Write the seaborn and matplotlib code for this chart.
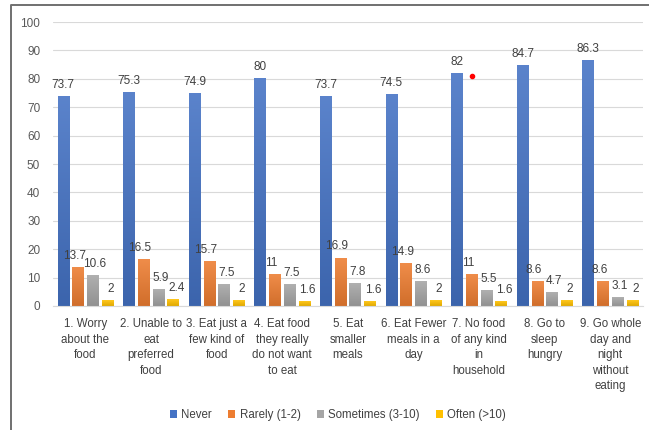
import numpy as np
import pandas as pd
import matplotlib
matplotlib.use("Agg")
import matplotlib.pyplot as plt
from matplotlib.lines import Line2D
from matplotlib.patches import Patch
from matplotlib.colors import LinearSegmentedColormap, to_rgb
import seaborn as sns

# Food insecurity items and share of respondents (%) per frequency
items = [
    "1. Worry\nabout the\nfood",
    "2. Unable to\neat\npreferred\nfood",
    "3. Eat just a\nfew kind of\nfood",
    "4. Eat food\nthey really\ndo not want\nto eat",
    "5. Eat\nsmaller\nmeals",
    "6. Eat Fewer\nmeals in a\nday",
    "7. No food\nof any kind\nin\nhousehold",
    "8. Go to\nsleep\nhungry",
    "9. Go whole\nday and\nnight\nwithout\neating",
]
frequencies = ["Never", "Rarely (1-2)", "Sometimes (3-10)", "Often (>10)"]
never = [73.7, 75.3, 74.9, 80, 73.7, 74.5, 82, 84.7, 86.3]
rarely = [13.7, 16.5, 15.7, 11, 16.9, 14.9, 11, 8.6, 8.6]
sometimes = [10.6, 5.9, 7.5, 7.5, 7.8, 8.6, 5.5, 4.7, 3.1]
often = [2, 2.4, 2, 1.6, 1.6, 2, 1.6, 2, 2]
colors = ["#4472C4", "#ED7D31", "#A5A5A5", "#FFC000"]

series = [never, rarely, sometimes, often]
df = pd.DataFrame({
    "item": np.tile(items, len(frequencies)),
    "frequency": np.repeat(frequencies, len(items)),
    "percent": np.concatenate(series),
})

sns.set_theme(style="white")
plt.rcParams["font.family"] = ["Liberation Sans", "DejaVu Sans"]
label_font = ["Liberation Sans Narrow", "Liberation Sans", "DejaVu Sans"]

fig = plt.figure(figsize=(6.49, 4.30), dpi=100)
ax = fig.add_axes([0.0812, 0.2884, 0.9096, 0.6604])

sns.barplot(
    data=df, x="item", y="percent", hue="frequency",
    order=items, hue_order=frequencies, palette=colors,
    width=0.9, gap=0.22, errorbar=None, legend=False, ax=ax,
    saturation=1, linewidth=0,
)


def shade(c, f):
    r = np.array(to_rgb(c))
    return tuple(np.clip(r * f if f < 1 else r + (1 - r) * (f - 1), 0, 1))


# soft vertical gradient on each bar (lighter at the top)
for cont, c in zip(ax.containers, colors):
    cmap = LinearSegmentedColormap.from_list("g", [shade(c, 0.88), shade(c, 1.12)])
    for bar in cont:
        x0, w, h = bar.get_x(), bar.get_width(), bar.get_height()
        grad = np.linspace(0, 1, 64).reshape(-1, 1)
        ax.imshow(grad, extent=[x0, x0 + w, 0, h], origin="lower", aspect="auto",
                  cmap=cmap, zorder=2, interpolation="bilinear")
        bar.set_alpha(0)

ax.set_ylim(0, 100)
ax.set_xlim(-0.5, len(items) - 0.5)

# value labels above every bar, nudged sideways so neighbours stay apart
label_pad = 4
nudges = [0, -2.6, 1.5, 2.2]  # points
for cont, dx in zip(ax.containers, nudges):
    anns = ax.bar_label(cont, labels=[f"{v:g}" for v in cont.datavalues],
                        padding=label_pad, fontsize=8.5, color="#404040",
                        family=label_font)
    for a in anns:
        a.xyann = (dx, label_pad)

# small red marker beside the item 7 "Never" bar
ax.plot(6 - 0.1, never[6] - 1, "o", color="#FF0000", markersize=3, zorder=5)

ax.set_yticks(np.arange(0, 101, 10))
ax.yaxis.grid(True, color="#D9D9D9", linewidth=0.8)
ax.set_axisbelow(True)
for s in ["top", "right", "left"]:
    ax.spines[s].set_visible(False)
ax.spines["bottom"].set_color("#D9D9D9")
ax.spines["bottom"].set_linewidth(0.8)
ax.set_xlabel("")
ax.set_ylabel("")
ax.tick_params(axis="y", length=0, pad=9, labelsize=8.5, labelcolor="#595959")
ax.tick_params(axis="x", length=0, pad=9, labelsize=8.3, labelcolor="#404040")
for t in ax.get_xticklabels():
    t.set_linespacing(1.38)
    t.set_verticalalignment("top")
    t.set_horizontalalignment("center")

handles = [Patch(facecolor=c, edgecolor="none") for c in colors]
fig.legend(handles, frequencies, loc="center", bbox_to_anchor=(338 / 649, 1 - 415 / 430),
           ncol=4, frameon=False, fontsize=8.3, labelcolor="#404040",
           handlelength=0.6, handleheight=0.6, handletextpad=0.4, columnspacing=1.4)

# outer frame (left and top edges)
fig.add_artist(Line2D([10.5 / 649, 10.5 / 649, 1.0], [0.0, 1 - 5 / 430, 1 - 5 / 430],
                      transform=fig.transFigure, color="#707070", linewidth=1.4))

fig.savefig("out.png", dpi=100)
